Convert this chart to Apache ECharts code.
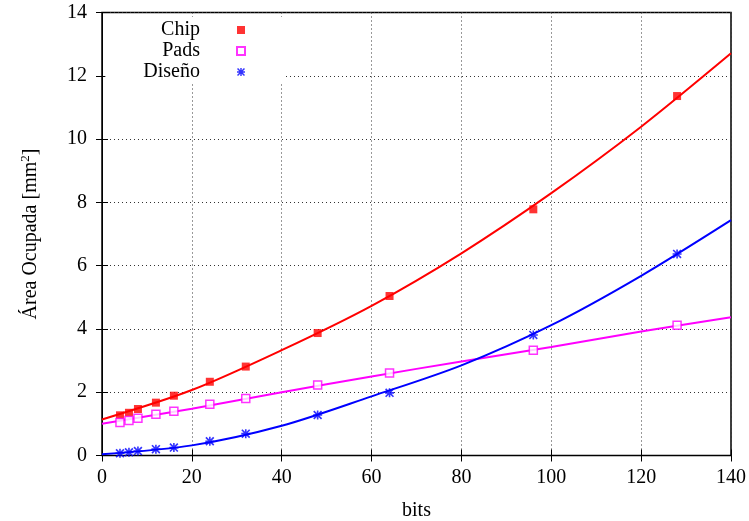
<!DOCTYPE html>
<html>
<head>
<meta charset="utf-8">
<script src="https://cdn.jsdelivr.net/npm/echarts@6/dist/echarts.min.js"></script>
<style>
  html, body { margin: 0; padding: 0; background: #fff; }
  #chart { width: 749px; height: 521px; }
</style>
</head>
<body>
<div id="chart"></div>
<script>
// measured points
const bits = [4, 6, 8, 12, 16, 24, 32, 48, 64, 96, 128];
const chip = [1.27, 1.35, 1.47, 1.67, 1.89, 2.33, 2.81, 3.87, 5.04, 7.78, 11.36];
const pads = [1.04, 1.11, 1.18, 1.30, 1.40, 1.62, 1.80, 2.23, 2.61, 3.33, 4.12];
const diseno = [0.07, 0.10, 0.14, 0.20, 0.25, 0.45, 0.69, 1.28, 1.98, 3.81, 6.37];

// fitted curves
const fitBits = [0, 20, 40, 60, 80, 100, 120, 140];
const chipFit = [1.14, 2.07, 3.33, 4.73, 6.39, 8.29, 10.39, 12.71];
const padsFit = [1.00, 1.48, 2.00, 2.50, 2.97, 3.43, 3.92, 4.37];
const disenoFit = [0.04, 0.32, 0.94, 1.87, 2.85, 4.12, 5.68, 7.44];

const xTicks = [0, 20, 40, 60, 80, 100, 120, 140];
const yTicks = [0, 2, 4, 6, 8, 10, 12, 14];

const font = 'Liberation Serif';
const fs = 20;
// gnuplot-like asterisk (+ and x on top of each other)
const star = 'path://M4.1 0L5.9 0L5.9 10L4.1 10Z M0 4.1L10 4.1L10 5.9L0 5.9Z M0 1.3L1.3 0L10 8.7L8.7 10Z M8.7 0L10 1.3L1.3 10L0 8.7Z';

const pairs = (xs, ys) => xs.map((x, i) => [x, ys[i]]);

const chart = echarts.init(document.getElementById('chart'));

const gridLine = { show: true, lineStyle: { color: '#333', type: [1, 3], width: 1 } };
const tick = { show: true, inside: true, length: 6, lineStyle: { color: '#000' } };

const fitLine = (name, xs, ys, color) => ({
  name: name,
  type: 'line',
  data: pairs(xs, ys),
  smooth: 0.3,
  showSymbol: false,
  lineStyle: { color: color, width: 2 },
  itemStyle: { color: color },
  z: 2
});

chart.setOption({
  animation: false,
  backgroundColor: '#fff',
  textStyle: { fontFamily: font },
  grid: {
    left: 102, right: 18, top: 12.5, bottom: 65.5,
    outerBoundsMode: 'none',
    show: true, borderColor: '#000', borderWidth: 1.5
  },
  legend: {
    data: ['Chip', 'Pads', 'Diseño'],
    orient: 'vertical',
    align: 'right',
    right: 465,
    top: 17,
    itemWidth: 8,
    itemHeight: 8,
    itemGap: 1,
    padding: [3, 38, 2, 38],
    backgroundColor: '#fff',
    textStyle: { fontFamily: font, fontSize: fs, color: '#000', padding: [0, 32, 0, 0] }
  },
  xAxis: [{
    type: 'value', min: 0, max: 140, interval: 20,
    name: 'bits', nameLocation: 'middle', nameGap: 45,
    nameTextStyle: { fontFamily: font, fontSize: fs, color: '#000' },
    axisLine: { show: true, lineStyle: { color: '#000' } },
    axisTick: tick,
    axisLabel: { fontFamily: font, fontSize: fs, color: '#000', margin: 12,
      formatter: v => xTicks.includes(v) ? String(v) : '' },
    splitLine: gridLine
  }, {
    type: 'value', min: 0, max: 140, interval: 20, position: 'top',
    axisLine: { show: false }, axisTick: tick, axisLabel: { show: false }, splitLine: { show: false }
  }],
  yAxis: [{
    type: 'value', min: 0, max: 14, interval: 2,
    name: '{a|Área Ocupada [mm}{s|2}{a|]}', nameLocation: 'middle', nameGap: 60,
    nameTextStyle: {
      rich: {
        a: { fontFamily: font, fontSize: fs, color: '#000' },
        s: { fontFamily: font, fontSize: 13, color: '#000', padding: [0, 0, 10, 0] }
      }
    },
    axisLine: { show: true, lineStyle: { color: '#000' } },
    axisTick: tick,
    axisLabel: { fontFamily: font, fontSize: fs, color: '#000', margin: 15,
      formatter: v => yTicks.includes(v) ? String(v) : '' },
    splitLine: gridLine
  }, {
    type: 'value', min: 0, max: 14, interval: 2, position: 'right',
    axisLine: { show: false }, axisTick: tick, axisLabel: { show: false }, splitLine: { show: false }
  }],
  series: [
    fitLine('Chip ajuste', fitBits, chipFit, '#ff0000'),
    fitLine('Pads ajuste', fitBits, padsFit, '#ff00ff'),
    fitLine('Diseño ajuste', fitBits, disenoFit, '#0000ff'),
    {
      name: 'Chip', type: 'scatter', data: pairs(bits, chip),
      symbol: 'rect', symbolSize: 8,
      itemStyle: { color: '#ff0000' }, z: 3
    },
    {
      name: 'Pads', type: 'scatter', data: pairs(bits, pads),
      symbol: 'rect', symbolSize: 8,
      itemStyle: { color: '#fff', borderColor: '#ff00ff', borderWidth: 1.5 }, z: 3
    },
    {
      name: 'Diseño', type: 'scatter', data: pairs(bits, diseno),
      symbol: star, symbolSize: 9,
      itemStyle: { color: '#0000ff' }, z: 3
    }
  ]
});
</script>
</body>
</html>
